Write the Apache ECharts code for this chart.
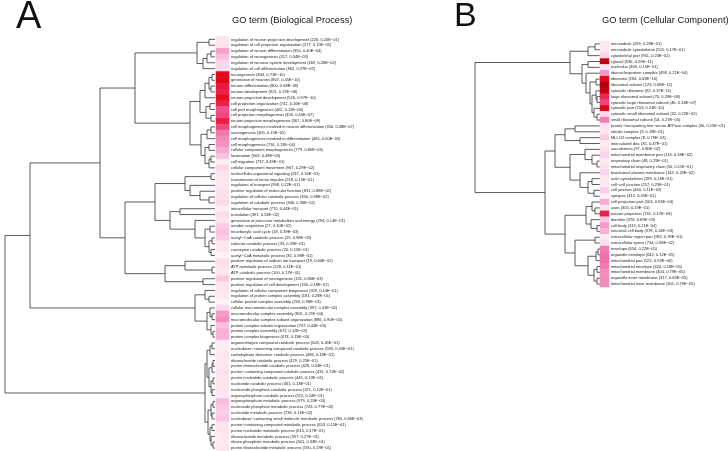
<!DOCTYPE html>
<html><head><meta charset="utf-8">
<script src="https://cdn.jsdelivr.net/npm/echarts@6/dist/echarts.min.js"></script>
<style>html,body{margin:0;padding:0;background:#fff}#main{width:728px;height:451px}</style>
</head><body><div id="main"></div>
<script>
var namesA = ['regulation of neuron projection development','regulation of cell projection organization','regulation of neuron differentiation','regulation of neurogenesis','regulation of nervous system development','regulation of cell differentiation','neurogenesis','generation of neurons','neuron differentiation','neuron development','neuron projection development','cell projection organization','cell part morphogenesis','cell projection morphogenesis','neuron projection morphogenesis','cell morphogenesis involved in neuron differentiation','axonogenesis','cell morphogenesis involved in differentiation','cell morphogenesis','cellular component morphogenesis','locomotion','cell migration','cellular component movement','multicellular organismal signaling','transmission of nerve impulse','regulation of transport','positive regulation of molecular function','regulation of cellular catabolic process','regulation of catabolic process','intracellular transport','translation','generation of precursor metabolites and energy','aerobic respiration','tricarboxylic acid cycle','acetyl−CoA catabolic process','cofactor catabolic process','coenzyme catabolic process','acetyl−CoA metabolic process','positive regulation of sodium ion transport','ATP metabolic process','ATP catabolic process','positive regulation of neurogenesis','positive regulation of cell development','regulation of cellular component biogenesis','regulation of protein complex assembly','cellular protein complex assembly','cellular macromolecular complex assembly','macromolecular complex assembly','macromolecular complex subunit organization','protein complex subunit organization','protein complex assembly','protein complex biogenesis','organonitrogen compound catabolic process','nucleobase−containing compound catabolic process','carbohydrate derivative catabolic process','ribonucleotide catabolic process','purine ribonucleotide catabolic process','purine−containing compound catabolic process','purine nucleotide catabolic process','nucleotide catabolic process','nucleoside phosphate catabolic process','organophosphate catabolic process','organophosphate metabolic process','nucleoside phosphate metabolic process','nucleotide metabolic process','nucleobase−containing small molecule metabolic process','purine−containing compound metabolic process','purine nucleotide metabolic process','ribonucleotide metabolic process','ribose phosphate metabolic process','purine ribonucleotide metabolic process'];
var countsA = [226,277,350,417,469,962,844,807,800,621,526,741,462,450,367,356,305,465,716,779,903,737,967,237,218,998,831,390,446,770,391,294,27,18,19,33,20,35,19,128,100,131,166,329,181,209,397,805,886,707,672,673,603,583,486,429,428,431,445,461,471,512,979,743,736,780,653,615,597,601,590];
var pA = ['0.20E−01','0.15E−01','0.40E−04','0.34E−03','0.26E−02','0.37E−02','0.71E−10','0.45E−10','0.68E−09','0.17E−08','0.97E−10','0.16E−08','0.11E−06','0.40E−07','0.90E−09','0.48E−07','0.15E−05','0.60E−05','0.11E−04','0.80E−04','0.48E−03','0.49E−01','0.29E−02','0.16E−01','0.15E−01','0.22E−01','0.88E−02','0.98E−02','0.36E−02','0.44E−01','0.53E−02','0.14E−01','0.10E−02','0.39E−03','0.98E−03','0.29E−01','0.15E−01','0.98E−01','0.60E−02','0.11E−01','0.17E−01','0.80E−03','0.18E−01','0.14E−01','0.28E−01','0.98E−01','0.41E−02','0.27E−04','0.90E−05','0.44E−03','0.12E−03','0.13E−03','0.45E−01','0.43E−01','0.18E−01','0.25E−01','0.24E−01','0.72E−02','0.12E−01','0.13E−01','0.12E−01','0.24E−01','0.29E−03','0.77E−03','0.11E−02','0.66E−03','0.15E−01','0.17E−01','0.27E−01','0.33E−01','0.19E−01'];

var namesB = ['microtubule','microtubule cytoskeleton','cytoskeletal part','cytosol','nucleolus','ribonucleoprotein complex','ribosome','ribosomal subunit','cytosolic ribosome','large ribosomal subunit','cytosolic large ribosomal subunit','cytosolic part','cytosolic small ribosomal subunit','small ribosomal subunit','proton−transporting two−sector ATPase complex','tubulin complex','MLL1/2 complex','intercalated disc','sarcolemma','mitochondrial membrane part','respiratory chain','mitochondrial respiratory chain','basolateral plasma membrane','actin cytoskeleton','cell−cell junction','cell junction','synapse','cell projection part','axon','neuron projection','dendrite','cell body','neuronal cell body','extracellular region part','extracellular space','envelope','organelle envelope','mitochondrial part','mitochondrial envelope','mitochondrial membrane','organelle inner membrane','mitochondrial inner membrane'];
var countsB = [269,555,961,936,469,498,184,123,82,70,46,153,32,54,40,3,8,35,97,116,48,50,142,289,257,460,412,503,305,741,376,419,378,982,734,654,642,522,424,404,317,301];
var pB = ['0.28E−01','0.17E−01','0.23E−02','0.29E−11','0.15E−01','0.21E−04','0.63E−10','0.68E−12','0.37E−11','0.29E−08','0.34E−07','0.24E−10','0.22E−02','0.27E−05','0.15E−01','0.18E−01','0.79E−03','0.47E−01','0.80E−02','0.18E−02','0.29E−01','0.11E−01','0.24E−02','0.24E−01','0.23E−01','0.11E−02','0.45E−01','0.93E−04','0.19E−01','0.17E−08','0.69E−03','0.21E−04','0.14E−03','0.39E−01','0.96E−02','0.22E−05','0.12E−05','0.92E−06','0.18E−05','0.79E−05','0.66E−05','0.79E−05'];

// dendrograms: [height, child, child]; numbers are leaf indices
var neuroA = [80,
  [18, [6, 0, 1], [12, [8, [4, 2, 3], 4], 5]],
  [25, [15, [10, [6, [3, 6, 7], [4, 8, 9]], 10], [9, [5, 11, 12], [4, 13, 14]]],
       [14, [8, [4, 15, 16], 17], [10, [6, 18, 19], [6, [4, 20, 21], 22]]]]];
var miscA = [90,
  [60, [30, [4, 23, 24], [25, 25, [15, 26, [6, 27, 28]]]],
       [45, [35, 29, 30], [20, 31, [10, [5, 32, 33], [6, [3, 34, 35], [4, 36, 37]]]]]],
  [50, [30, 38, [3, 39, 40]], [12, 41, 42]]];
var cplxA = [20, [10, 43, [6, 44, 45]], [8, [5, 46, [3, 47, 48]], [4, 49, [2, 50, 51]]]];
var nucA = [10,
  [8, [5, [3, 52, 53], 54], [6, [3, [2, 55, 56], 57], [4, [2, 58, 59], [3, 60, 61]]]],
  [7, [4, [2, 62, 63], [3, 64, 65]], [5, [3, 66, 67], [4, 68, [2, 69, 70]]]]];
var treeA = [210, [185, [115, neuroA, miscA], cplxA], nucA];

var riboB = [18, [12, 3, 4], [14, 5, [10, [4, 6, 7], [8, [4, 8, [3, 9, 10]], [6, 11, [3, 12, 13]]]]]];
var restB1 = [45, [35, [25, 14, 15], [20, 16, 17]],
  [30, [15, 18, [8, 19, [3, 20, 21]]], [20, 22, [12, [8, 23, 24], [6, 25, 26]]]]];
var restB2 = [35, [14, [8, 27, [5, 28, 29]], [9, 30, [3, 31, 32]]],
  [25, [5, 33, 34], [12, [4, [2, 35, 36], 37], [6, [3, 38, 39], [3, 40, 41]]]]];
var treeB = [125, [30, [12, [5, 0, 1], 2], riboB], [55, restB1, restB2]];

function toSegs(node, segs) {
  if (typeof node === 'number') return {y: node, h: 0};
  var a = toSegs(node[1], segs), b = toSegs(node[2], segs), h = node[0];
  segs.push([a.h, a.y, h, a.y], [b.h, b.y, h, b.y], [h, a.y, h, b.y]);
  return {y: (a.y + b.y) / 2, h: h};
}
var segsA = [], segsB = [];
toSegs(treeA, segsA);
toSegs(treeB, segsB);

function labels(names, counts, ps) {
  return names.map(function (n, i) { return n + ' (' + counts[i] + ', ' + ps[i] + ')'; });
}
function cells(ps) {
  return ps.map(function (p, i) { return [0, i, -Math.log10(parseFloat(p.replace('−', '-')))]; });
}
var labA = labels(namesA, countsA, pA), labB = labels(namesB, countsB, pB);

function segItem(params, api) {
  var p1 = api.coord([api.value(0), api.value(1)]);
  var p2 = api.coord([api.value(2), api.value(3)]);
  return {type: 'line', shape: {x1: p1[0], y1: p1[1], x2: p2[0], y2: p2[1]},
    style: {stroke: '#333', lineWidth: 0.8}};
}

var gA = {top: 36.5, height: 415}, gB = {top: 41, height: 246};
var chart = echarts.init(document.getElementById('main'));
chart.setOption({
  animation: false,
  textStyle: {fontFamily: 'Liberation Sans'},
  title: [
    {text: 'A', left: 16, top: -1, padding: 0, textStyle: {fontSize: 38, fontWeight: 'normal', color: '#111'}},
    {text: 'GO term (Biological Process)', left: 232, top: 16, padding: 0, textStyle: {fontSize: 9.3, fontWeight: 'normal', color: '#111'}},
    {text: 'B', left: 454, top: 0, padding: 0, textStyle: {fontSize: 34, fontWeight: 'normal', color: '#111'}},
    {text: 'GO term (Cellular Component)', left: 602, top: 16, padding: 0, textStyle: {fontSize: 9.3, fontWeight: 'normal', color: '#111'}}
  ],
  grid: [
    {left: 5, width: 210, top: gA.top, height: gA.height},
    {left: 216, width: 13, top: gA.top, height: gA.height},
    {left: 470, width: 130, top: gB.top, height: gB.height},
    {left: 600, width: 12, top: gB.top, height: gB.height}
  ],
  xAxis: [
    {gridIndex: 0, type: 'value', min: 0, max: 210, inverse: true, show: false},
    {gridIndex: 1, type: 'category', data: ['p'], show: false},
    {gridIndex: 2, type: 'value', min: 0, max: 130, inverse: true, show: false},
    {gridIndex: 3, type: 'category', data: ['p'], show: false}
  ],
  yAxis: [
    {gridIndex: 0, type: 'value', min: -0.5, max: labA.length - 0.5, inverse: true, show: false},
    {gridIndex: 1, type: 'category', data: labA, inverse: true, position: 'right',
      axisLine: {show: false}, axisTick: {show: false},
      axisLabel: {interval: 0, fontSize: 4, margin: 2, color: '#222'}},
    {gridIndex: 2, type: 'value', min: -0.5, max: labB.length - 0.5, inverse: true, show: false},
    {gridIndex: 3, type: 'category', data: labB, inverse: true, position: 'right',
      axisLine: {show: false}, axisTick: {show: false},
      axisLabel: {interval: 0, fontSize: 4, margin: 2, color: '#222'}}
  ],
  visualMap: {
    show: false, type: 'continuous', min: 1, max: 12, seriesIndex: [1, 3], dimension: 2,
    inRange: {color: ['#fff2f8', '#fcd2e6', '#f59ac6', '#f0609e', '#ec2a5a', '#e40a1a', '#b4000c']}
  },
  series: [
    {type: 'custom', xAxisIndex: 0, yAxisIndex: 0, renderItem: segItem, data: segsA, silent: true},
    {type: 'heatmap', xAxisIndex: 1, yAxisIndex: 1, data: cells(pA)},
    {type: 'custom', xAxisIndex: 2, yAxisIndex: 2, renderItem: segItem, data: segsB, silent: true},
    {type: 'heatmap', xAxisIndex: 3, yAxisIndex: 3, data: cells(pB)}
  ]
});
</script>
</body></html>
